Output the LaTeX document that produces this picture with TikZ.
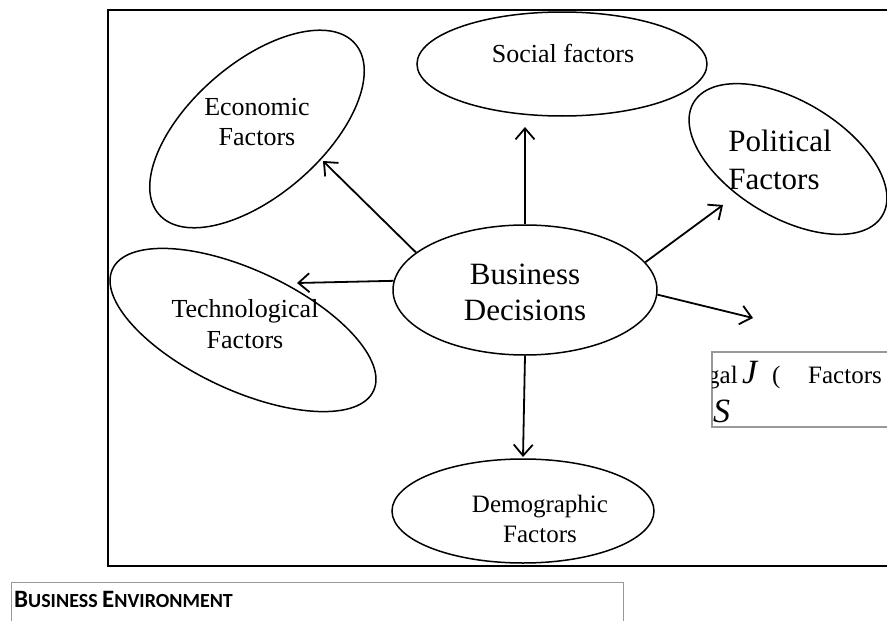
\documentclass[tikz,border=0pt]{standalone}
\usepackage{fontspec}
\setmainfont{Liberation Serif}
\newfontfamily\boxfont{Carlito}
\usetikzlibrary{shapes.geometric,arrows.meta}

\tikzset{
  factor/.style={ellipse, draw, line width=1.5pt, inner sep=0pt},
  ftext/.style={align=center, inner sep=0pt},
  link/.style={-{Straight Barb[length=11pt,width=19pt]}, line width=1.8pt},
}

\begin{document}
\begin{tikzpicture}[x=1pt,y=1pt]
\useasboundingbox (0,0) rectangle (887,-621);
\clip (0,0) rectangle (887,-621);
% outer frame
\draw[line width=1.5pt] (108,-10) rectangle (900,-566);

% centre
\node[factor, minimum width=264pt, minimum height=130pt] (busi) at (525,-290) {};
\node[ftext, font=\fontsize{31}{36}\selectfont] (busitext) at (525,-292) {Business\\Decisions};

% the factors
\node[factor, minimum width=290pt, minimum height=104pt] (social) at (562,-64) {};
\node[ftext, anchor=base, font=\fontsize{26}{30}\selectfont] (socialtext) at (563,-62) {Social factors};

\node[factor, minimum width=260pt, minimum height=132pt, rotate=41] (econ) at (257,-129) {};
\node[ftext, font=\fontsize{26}{30}\selectfont] (econtext) at (257,-122) {Economic\\Factors};

\node[factor, minimum width=220pt, minimum height=116pt, rotate=-31] (polit) at (788,-159) {};
\node[ftext, align=left, font=\fontsize{31}{38}\selectfont] (polittext) at (780,-160) {Political\\Factors};

\node[factor, minimum width=288pt, minimum height=120pt, rotate=-25] (tech) at (243,-330) {};
\node[ftext, font=\fontsize{26}{31}\selectfont] (techtext) at (245,-324) {Technological\\Factors};

\node[factor, minimum width=262pt, minimum height=104pt] (demo) at (523,-511) {};
\node[ftext, font=\fontsize{25}{30}\selectfont] (demotext) at (540,-519) {Demographic\\Factors};

% arrow ends
\coordinate (socialtip) at (525,-127);
\coordinate (econtip) at (323,-161);
\coordinate (polittip) at (723,-205);
\coordinate (legaltip) at (753,-318);
\coordinate (techtip) at (297,-283);
\coordinate (demotip) at (523,-457);

\draw[link] (busi.north) -- (socialtip);
\draw[link] (busi.161) -- (econtip);
\draw[link] (busi.13) -- (polittip);
\draw[link] (busi.-2) -- (legaltip);
\draw[link] (busi.176) -- (techtip);
\draw[link] (busi.south) -- (demotip);

% cut legal box
\draw[gray!80, line width=1.2pt] (712,-352) rectangle (900,-427);
\begin{scope}
\clip (712,-352) rectangle (900,-427);
\node[anchor=base west, inner sep=0pt, font=\fontsize{25}{30}\selectfont] (legalword) at (707,-383) {gal};
\node[anchor=base west, inner sep=0pt, font=\fontsize{34}{36}\itshape] (legalj) at (742,-383) {J};
\node[anchor=base west, inner sep=0pt, font=\fontsize{25}{30}\selectfont] (legalpar) at (772,-383) {(};
\node[anchor=base west, inner sep=0pt, font=\fontsize{25}{30}\selectfont] (legalfac) at (808,-383) {Factors};
\node[anchor=base west, inner sep=0pt, font=\fontsize{34}{36}\itshape] (legals) at (713,-422) {S};
\end{scope}

% caption box
\draw[gray!80, line width=1pt] (11,-582) rectangle (623,-640);
\node[anchor=base west, inner sep=0pt, font=\boxfont\bfseries] (caption) at (14,-607)
  {\fontsize{25}{30}\selectfont B\fontsize{20}{24}\selectfont USINESS \fontsize{25}{30}\selectfont E\fontsize{20}{24}\selectfont NVIRONMENT};
\end{tikzpicture}
\end{document}
